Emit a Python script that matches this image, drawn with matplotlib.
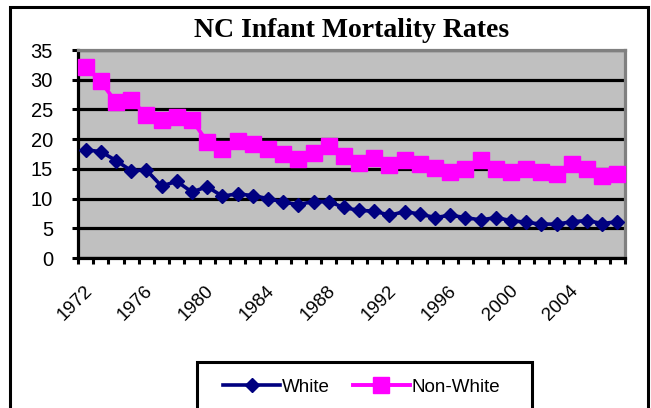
import numpy as np
import matplotlib
matplotlib.use("Agg")
import matplotlib.pyplot as plt
import matplotlib.transforms as mtransforms
from matplotlib.patches import Rectangle

plt.rcParams['font.family'] = ['Liberation Sans', 'DejaVu Sans']

years = list(range(1972, 2008))
white = [18.2, 17.9, 16.4, 14.7, 14.8, 12.1, 12.9, 11.1, 12.0, 10.4,
         10.8, 10.5, 10.0, 9.4, 9.0, 9.5, 9.5, 8.5, 8.0, 7.9,
         7.2, 7.8, 7.4, 6.8, 7.2, 6.8, 6.4, 6.8, 6.3, 6.0,
         5.7, 5.7, 6.1, 6.3, 5.8, 6.1]
non_white = [32.2, 29.7, 26.2, 26.6, 24.0, 23.3, 23.8, 23.3, 19.5, 18.4,
             19.7, 19.2, 18.4, 17.5, 16.7, 17.6, 18.9, 17.2, 16.0, 16.9,
             15.7, 16.5, 15.9, 15.1, 14.4, 15.0, 16.5, 14.9, 14.5, 14.9,
             14.4, 14.1, 15.9, 15.0, 13.8, 14.1]
label_years = years[::4]

W, H = 651, 408
fig = plt.figure(figsize=(W / 100, H / 100), dpi=100)
ax = fig.add_axes([78 / W, 1 - 258 / H, (625 - 78) / W, (258 - 50) / H])
ax.set_facecolor('#C0C0C0')

x = np.arange(len(years))
ax.plot(x, white, color='#000080', lw=2.6, marker='D', ms=7.5,
        mfc='#000080', mec='#000080', label='White', clip_on=False, zorder=3)
ax.plot(x, non_white, color='#FF00FF', lw=2.8, marker='s', ms=11,
        mfc='#FF00FF', mec='#FF00FF', label='Non-White', clip_on=False, zorder=3)

ax.set_xlim(-0.5, len(years) - 0.5)
ax.set_ylim(0, 35)
ax.set_yticks(range(0, 36, 5))
ax.yaxis.grid(True, color='black', lw=2.3)
ax.set_axisbelow(True)

ax.set_xticks([years.index(y) for y in label_years])
ax.set_xticklabels([str(y) for y in label_years], rotation=45, ha='right',
                   va='center', rotation_mode='anchor', fontsize=13.5)
ax.set_xticks(np.arange(-0.5, len(years), 1), minor=True)
ax.tick_params(axis='x', which='major', length=0, pad=22)
ax.tick_params(axis='x', which='minor', length=4.5, width=2.2, direction='out')
ax.tick_params(axis='y', length=4.5, width=2.2, direction='out', pad=13.5,
               labelsize=14.5)
offset = mtransforms.ScaledTranslation(4 / 100, 0, fig.dpi_scale_trans)
for lab in ax.get_xticklabels():
    lab.set_transform(lab.get_transform() + offset)

for side in ['left', 'bottom']:
    ax.spines[side].set_color('black')
    ax.spines[side].set_linewidth(2.3)
for side in ['top', 'right']:
    ax.spines[side].set_color('#808080')
    ax.spines[side].set_linewidth(2.3)

fig.text(351.5 / W, 1 - 37 / H, 'NC Infant Mortality Rates', ha='center',
         va='baseline', fontsize=20, fontweight='bold', family='Liberation Serif')

# outer chart border
fig.patches.append(Rectangle((10 / W, -0.1), (648 - 10) / W, 1.1 - 7 / H,
                             transform=fig.transFigure, fill=False,
                             edgecolor='black', lw=2.2))
# legend box
fig.patches.append(Rectangle((197 / W, 1 - 416 / H), (532 - 197) / W, (416 - 362) / H,
                             transform=fig.transFigure, fill=False,
                             edgecolor='black', lw=2.2))
fig.legend(loc='center left', bbox_to_anchor=(223 / W, 1 - 387 / H), ncol=2,
           frameon=False, fontsize=13.5, handlelength=3.06, handletextpad=0.1,
           columnspacing=1.2, borderpad=0, borderaxespad=0)

fig.savefig('out.png', dpi=100)
